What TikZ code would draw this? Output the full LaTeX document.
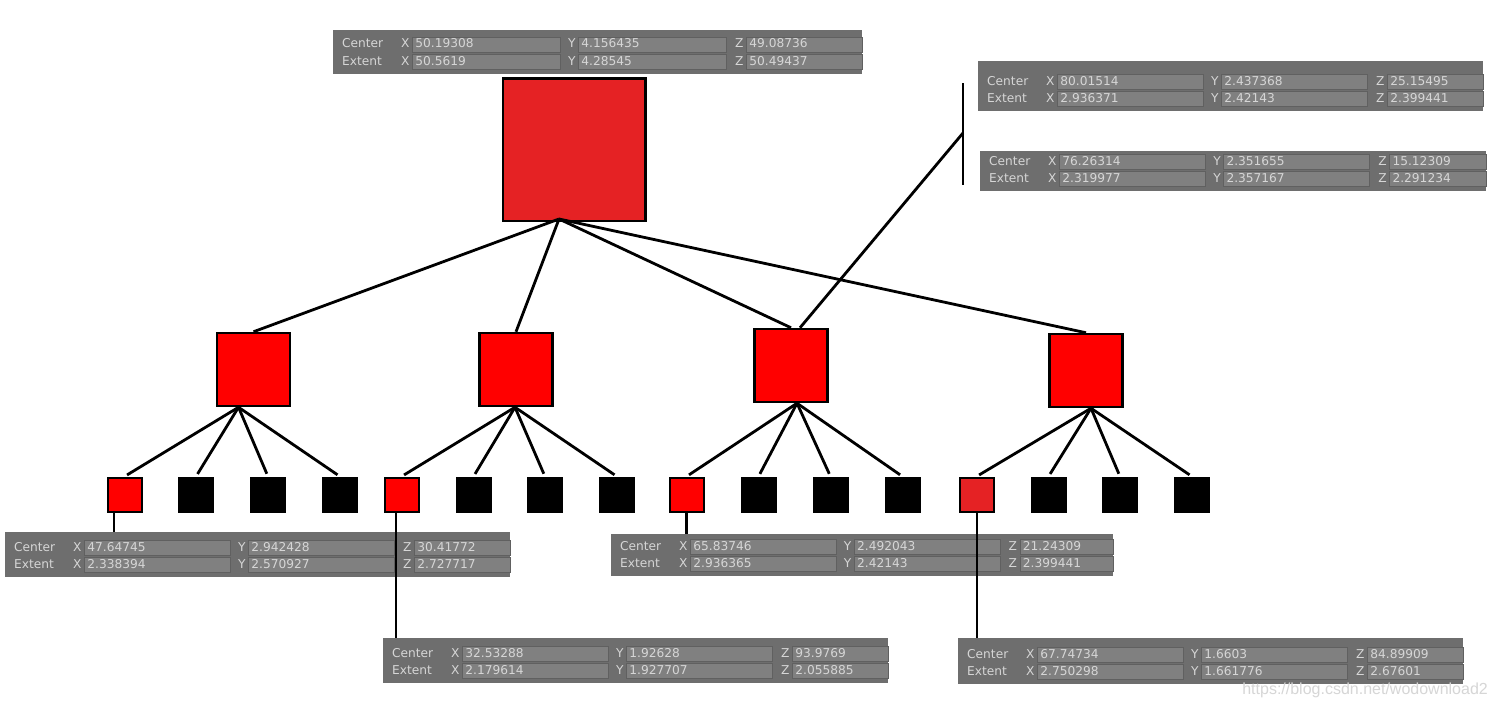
\documentclass[tikz,border=0pt]{standalone}
\usepackage{fontspec}
\setmainfont{DejaVu Sans}
\newfontfamily\markfont{Liberation Sans}

\definecolor{boxred}{RGB}{229,34,36}
\definecolor{nodered}{RGB}{255,0,0}
\definecolor{panelgray}{RGB}{110,110,110}
\definecolor{fieldgray}{RGB}{128,128,128}
\definecolor{fieldedge}{RGB}{96,96,96}
\definecolor{paneltext}{RGB}{214,214,214}

\newcommand{\panelfont}{\fontsize{12.2}{14}\selectfont}

% one row of an inspector panel: panel, label, height above the bottom, x/y/z
\newcommand{\inforow}[4]{%
  \foreach \vx/\vy/\vz in {#4}{%
    \node (#1-#2) at ([shift={(9,-#3)}]#1.south west) [plabel] {#2};
    \node (#1-#2-xl) at ([shift={(68,-#3)}]#1.south west) [plabel] {X};
    \node (#1-#2-x) at ([shift={(79,-#3)}]#1.south west) [pfield, text width=\fieldt pt] {\vx};
    \node (#1-#2-yl) at ([shift={(\ylabx,-#3)}]#1.south west) [plabel] {Y};
    \node (#1-#2-y) at ([shift={(\yfieldx,-#3)}]#1.south west) [pfield, text width=\fieldt pt] {\vy};
    \node (#1-#2-zl) at ([shift={(\zlabx,-#3)}]#1.south west) [plabel] {Z};
    \node (#1-#2-z) at ([shift={(\zfieldx,-#3)}]#1.south west) [pfield, text width=\zfieldt pt] {\vz};
  }%
}

% inspector panel: name, lower left corner, width, height, center x/y/z, extent x/y/z
\newcommand{\infopanel}[6]{%
  \node (#1) at #2 [panel, minimum width=#3pt, minimum height=#4pt] {};
  \pgfmathsetmacro\fieldw{146+(#3-505)/12}
  \pgfmathsetmacro\fieldt{\fieldw-6}
  \pgfmathsetmacro\ylabx{79+\fieldw+8}
  \pgfmathsetmacro\yfieldx{79+\fieldw+18}
  \pgfmathsetmacro\zlabx{79+2*\fieldw+27}
  \pgfmathsetmacro\zfieldx{79+2*\fieldw+38}
  \pgfmathsetmacro\zfieldt{#3-\zfieldx-6}
  \inforow{#1}{Center}{29}{#5}
  \inforow{#1}{Extent}{12}{#6}
}

\begin{document}
\begin{tikzpicture}[x=1pt, y=-1pt]
    \tikzstyle{panel}=[rectangle, fill=panelgray, anchor=south west, inner sep=0];
    \tikzstyle{plabel}=[anchor=west, inner sep=0, text=paneltext, font=\panelfont, text height=8.5pt, text depth=2.5pt];
    \tikzstyle{pfield}=[rectangle, draw=fieldedge, fill=fieldgray, line width=0.8pt, anchor=west, minimum height=15pt, inner xsep=3pt, inner ysep=0pt, text=paneltext, font=\panelfont, align=left, text height=8.5pt, text depth=2.5pt];
    \tikzstyle{bigbox}=[rectangle, draw, line width=2.5pt, fill=boxred, minimum size=142.5pt, inner sep=0];
    \tikzstyle{midbox}=[rectangle, draw, line width=2.5pt, fill=nodered, minimum size=73pt, inner sep=0];
    \tikzstyle{leaf}=[rectangle, draw, line width=2pt, fill=black, minimum size=34pt, inner sep=0];
    \tikzstyle{redleaf}=[leaf, fill=nodered];
    \tikzstyle{link}=[line width=2.8pt];

    \fill[white] (0,0) rectangle (1495,709);
    \useasboundingbox (0,0) rectangle (1495,709);

    \infopanel{ptop}{(333,74)}{529}{44}{50.19308/4.156435/49.08736}{50.5619/4.28545/50.49437}
    \infopanel{pright1}{(978,111)}{505}{50}{80.01514/2.437368/25.15495}{2.936371/2.42143/2.399441}
    \infopanel{pright2}{(980,191)}{506}{40}{76.26314/2.351655/15.12309}{2.319977/2.357167/2.291234}
    \infopanel{pleft}{(5,577)}{505}{45}{47.64745/2.942428/30.41772}{2.338394/2.570927/2.727717}
    \infopanel{pmid}{(611,576)}{502}{42}{65.83746/2.492043/21.24309}{2.936365/2.42143/2.399441}
    \infopanel{pbotmid}{(383,683)}{505}{45}{32.53288/1.92628/93.9769}{2.179614/1.927707/2.055885}
    \infopanel{pbotright}{(958,684)}{505}{46}{67.74734/1.6603/84.89909}{2.750298/1.661776/2.67601}

    \node (top) at (574,149.5) [bigbox] {};

    \node (m1) at (253.5,369.5) [midbox] {};
    \node (m2) at (516,369.5) [midbox] {};
    \node (m3) at (791,365.5) [midbox] {};
    \node (m4) at (1086,370.5) [midbox] {};

    \node (l1) at (124.5,494.5) [redleaf] {};
    \node (l2) at (196,494.5) [leaf] {};
    \node (l3) at (268,494.5) [leaf] {};
    \node (l4) at (340,494.5) [leaf] {};

    \node (l5) at (401.5,494.5) [redleaf] {};
    \node (l6) at (473.5,494.5) [leaf] {};
    \node (l7) at (545,494.5) [leaf] {};
    \node (l8) at (617,494.5) [leaf] {};

    \node (l9) at (686.5,494.5) [redleaf] {};
    \node (l10) at (758.5,494.5) [leaf] {};
    \node (l11) at (830.5,494.5) [leaf] {};
    \node (l12) at (902.5,494.5) [leaf] {};

    \node (l13) at (976.5,494.5) [redleaf, fill=boxred] {};
    \node (l14) at (1048.5,494.5) [leaf] {};
    \node (l15) at (1120,494.5) [leaf] {};
    \node (l16) at (1192,494.5) [leaf] {};

    \draw[link] ([xshift=-15,yshift=3]top.south) edge (m1.north) edge (m2.north) edge (m3.north) edge (m4.north);

    \draw[link, shorten >=3pt] ([xshift=-15]m1.south) edge (l1.north) edge (l2.north) edge (l3.north) edge (l4.north);
    \draw[link, shorten >=3pt] ([xshift=-1]m2.south) edge (l5.north) edge (l6.north) edge (l7.north) edge (l8.north);
    \draw[link, shorten >=3pt] ([xshift=6]m3.south) edge (l9.north) edge (l10.north) edge (l11.north) edge (l12.north);
    \draw[link, shorten >=3pt] ([xshift=5]m4.south) edge (l13.north) edge (l14.north) edge (l15.north) edge (l16.north);

    \coordinate (barup) at (963,83);
    \coordinate (bardown) at (963,185);
    \coordinate (barhit) at (963,133);
    \draw[link] (barup) -- (bardown);
    \draw[link] ([xshift=9]m3.north) -- (barhit);

    \draw[link] ([xshift=-10.5]l1.south) -- ([xshift=-10.5]l1.south |- pleft.north);
    \draw[link] ([xshift=-5.5]l5.south) -- ([xshift=-5.5]l5.south |- pbotmid.north);
    \draw[link] (l9.south) -- (l9.south |- pmid.north);
    \draw[link] ([xshift=0.5]l13.south) -- ([xshift=0.5]l13.south |- pbotright.north);

    \node (mark) at (1488,690) [anchor=east, inner sep=0, text=black!16, font=\markfont\fontsize{16}{18}\selectfont] {https://blog.csdn.net/wodownload2};

\end{tikzpicture}
\end{document}
